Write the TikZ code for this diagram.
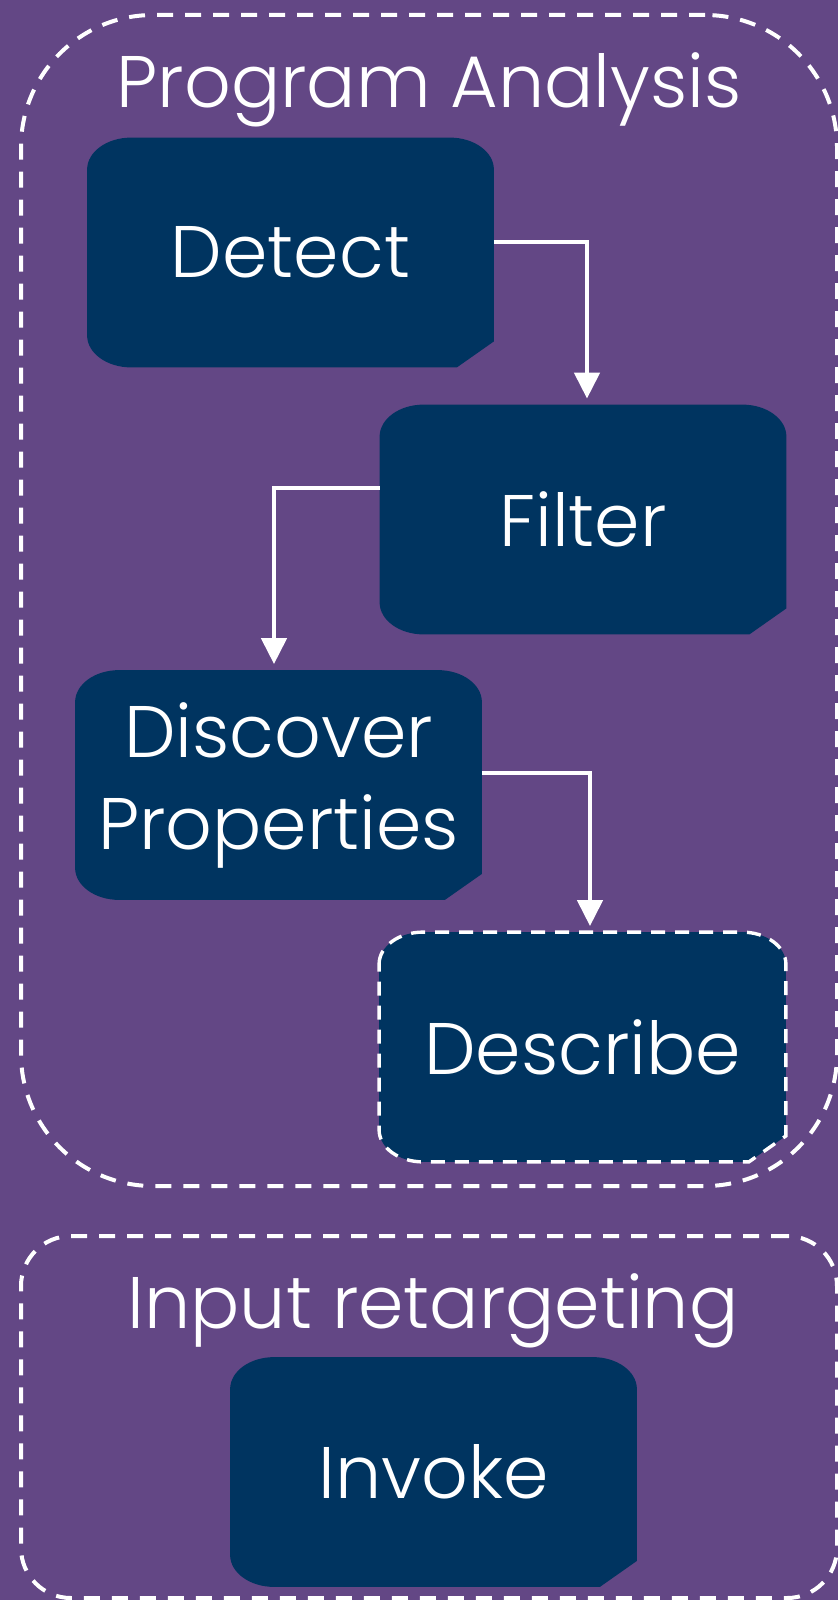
\documentclass[tikz,border=0pt]{standalone}
\usepackage{fontspec}
\setmainfont{Poppins Light}
\usetikzlibrary{arrows.meta}
\definecolor{bgpurple}{RGB}{99,71,133}
\definecolor{navy}{RGB}{0,52,96}
\tikzset{
  boxnode/.style={rectangle, minimum width=203pt, minimum height=114.5pt, inner sep=0pt,
    text=white, font=\fontsize{36.5}{46}\selectfont, align=center},
  container/.style={rectangle, draw=white, line width=2pt, dash pattern=on 8pt off 6pt,
    minimum width=408pt, inner sep=0pt},
  titletext/.style={text=white, font=\fontsize{36.5}{46}\selectfont, inner sep=0pt, anchor=base},
  conn/.style={draw=white, line width=2.3pt, -{Triangle[width=12.5pt,length=13pt]}, shorten >=3pt},
  dashedborder/.style={draw=white, line width=1.7pt, dash pattern=on 7pt off 5pt}
}
\newcommand\snipshape[2]{%
  \path[#2] ([yshift=-16pt]#1.north west)
    arc[start angle=180, end angle=90, x radius=22pt, y radius=16pt]
    -- ([xshift=-22pt]#1.north east)
    arc[start angle=90, end angle=0, x radius=22pt, y radius=16pt]
    -- ([yshift=13pt]#1.south east)
    -- ([xshift=-18.5pt]#1.south east)
    -- ([xshift=22pt]#1.south west)
    arc[start angle=270, end angle=180, x radius=22pt, y radius=16pt]
    -- cycle;}
\begin{document}
\begin{tikzpicture}[x=0.5pt,y=-0.5pt]
\fill[bgpurple] (0,0) rectangle (838,1600);
\useasboundingbox (0,0) rectangle (838,1600);
% containers
\node[container, minimum height=585.5pt, rounded corners=66pt] (pa) at (429,600.5) {};
\node[container, minimum height=181pt, rounded corners=25pt] (ir) at (429,1417) {};
\node[titletext] (patitle) at (429,108) {Program Analysis};
\node[titletext] (irtitle) at (433,1328) {Input retargeting};
% boxes
\node[boxnode] (detect) at (290.5,252.5) {};
\node[boxnode] (filter) at (583,519.5) {};
\node[boxnode] (discover) at (278.5,785) {};
\node[boxnode] (describe) at (582.5,1047) {};
\node[boxnode] (invoke) at (433.5,1472) {};
\snipshape{detect}{fill=navy}
\snipshape{filter}{fill=navy}
\snipshape{discover}{fill=navy}
\snipshape{describe}{fill=navy}
\snipshape{describe}{dashedborder}
\snipshape{invoke}{fill=navy}
\node[boxnode] at (detect) {Detect};
\node[boxnode] at (filter) {Filter};
\node[boxnode] at (discover) {Discover\\Properties};
\node[boxnode] at (describe) {Describe};
\node[boxnode] at (invoke) {Invoke};
% connectors
\draw[conn] ([yshift=5.25pt]detect.east) -| ([xshift=2pt]filter.north);
\draw[conn] ([yshift=15.75pt]filter.west) -| ([xshift=-2.25pt]discover.north);
\draw[conn] ([yshift=6pt]discover.east) -| ([xshift=3.75pt]describe.north);
\end{tikzpicture}
\end{document}
